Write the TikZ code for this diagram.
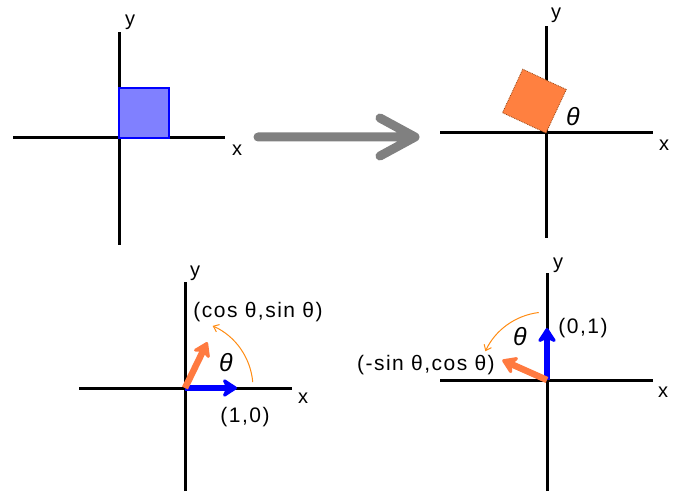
\documentclass[tikz,border=0pt]{standalone}
\usepackage{fontspec}
\setmainfont{Liberation Sans}
\usetikzlibrary{arrows.meta}
\definecolor{sqblue}{RGB}{128,128,255}
\definecolor{sqorange}{RGB}{255,128,64}
\definecolor{sqedge}{RGB}{150,70,20}
\definecolor{vecorange}{RGB}{255,122,64}
\definecolor{arcorange}{RGB}{255,140,20}
\definecolor{bigarrow}{RGB}{128,128,128}
\begin{document}
\begin{tikzpicture}[x=1pt,y=1pt,
  axis/.style={line width=3pt},
  lbl/.style={font=\fontsize{20}{22}\selectfont,inner sep=0pt},
  pt/.style={font=\fontsize{21}{23}\selectfont\addfontfeature{LetterSpace=7},inner sep=0pt},
  ang/.style={font=\fontsize{25}{26}\selectfont\itshape,inner sep=0pt},
  vec/.style={line width=6.5pt,-{Stealth[length=17pt,width=22pt,inset=5pt,round]}},
  turn/.style={arcorange,line width=1pt,-{Straight Barb[length=5pt,width=8pt]}}]
  \useasboundingbox (0,0) rectangle (673,491);
  % origins of the four panels
  \coordinate (o1) at (119,353);
  \coordinate (o2) at (546,358);
  \coordinate (o3) at (185,103);
  \coordinate (o4) at (547,111);
  % top left: unit square
  \draw[axis] (13,353) -- (225,353);
  \draw[axis] (119,246) -- (119,459);
  \filldraw[fill=sqblue,draw=blue,line width=1.2pt] (o1) rectangle ++(50,50);
  \node[lbl] (y1) at (130,469) {y};
  \node[lbl] (x1) at (237,341) {x};
  % big gray arrow between the top panels
  \coordinate (g1) at (258,354);
  \coordinate (g2) at (415,354);
  \draw[bigarrow,line width=9pt,line cap=round,line join=round] (g1) -- (g2)
    (380,373) -- (g2) -- (380,335);
  % top right: rotated square
  \draw[axis] (440,358) -- (653,358);
  \draw[axis] (546,253) -- (546,465);
  \filldraw[fill=sqorange,draw=sqedge,densely dotted,line width=0.8pt,
    rotate around={65:(o2)}] (o2) rectangle ++(48,48);
  \node[ang] (t2) at (573,374) {θ};
  \node[lbl] (y2) at (556,476) {y};
  \node[lbl] (x2) at (664,346) {x};
  % bottom left: image of (1,0)
  \draw[axis] (79,103) -- (292,103);
  \draw[axis] (185,0) -- (185,209);
  \draw[vec,blue] (o3) -- ++(52,0);
  \draw[vec,vecorange] (o3) -- ++(64:51);
  \draw[turn] ([shift={(5:68)}]o3) arc (5:66:68);
  \node[ang] (t3) at (226,128) {θ};
  \node[pt] (c3) at (258,179) {(cos θ,sin θ)};
  \node[pt] (u3) at (245,74) {(1,0)};
  \node[lbl] (y3) at (195,218) {y};
  \node[lbl] (x3) at (303,93) {x};
  % bottom right: image of (0,1)
  \draw[axis] (440,111) -- (653,111);
  \draw[axis] (547,0) -- (547,218);
  \draw[vec,blue] (o4) -- ++(0,52);
  \draw[vec,vecorange] (o4) -- ++(156:49);
  \draw[turn] ([shift={(97:68)}]o4) arc (97:155:68);
  \node[ang] (t4) at (520,154) {θ};
  \node[pt] (u4) at (583,163) {(0,1)};
  \node[pt] (c4) at (426,126) {(-sin θ,cos θ)};
  \node[lbl] (y4) at (558,226) {y};
  \node[lbl] (x4) at (663,99) {x};
\end{tikzpicture}
\end{document}
